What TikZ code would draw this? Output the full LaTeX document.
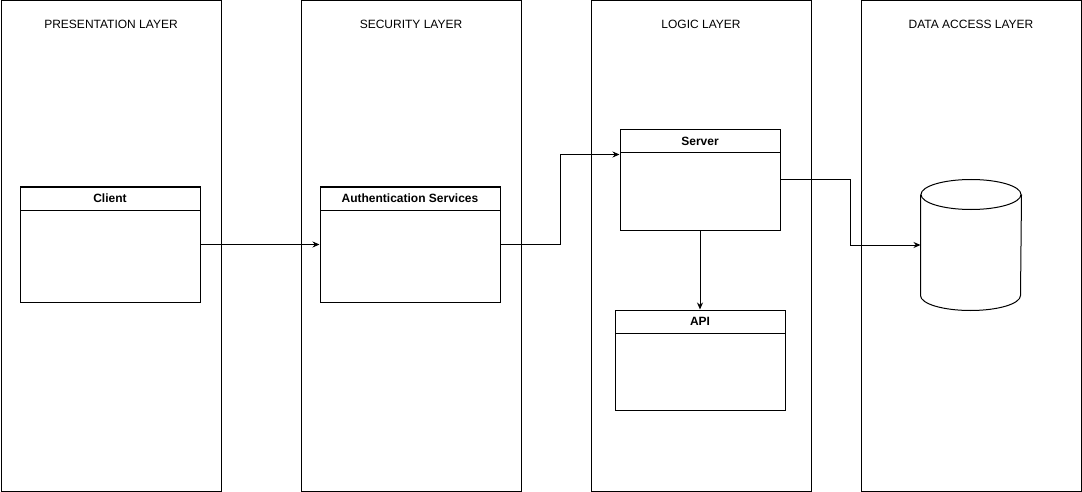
\documentclass[tikz,border=0pt]{standalone}
\usepackage{fontspec}
\setmainfont{Liberation Sans}
\usetikzlibrary{arrows.meta}

\begin{document}
\begin{tikzpicture}[x=1pt,y=-1pt,line width=1pt,
    font=\fontsize{12}{14}\selectfont,
    layer/.style ={draw, minimum width=220pt, minimum height=490pt, anchor=north west, inner sep=0pt},
    block/.style ={draw, fill=white, inner sep=0pt},
    header/.style ={draw, anchor=north, minimum height=23pt, inner sep=0pt, font=\fontsize{12}{14}\selectfont\bfseries},
    link/.style ={-{Stealth[length=7pt,width=6pt]}}]
   \useasboundingbox (0,0) rectangle (1082,492);
   % layers
   \node[layer] (pres) at (0.5,0.5) {};
   \node[layer] (sec)  at (300.5,0.5) {};
   \node[layer] (logic) at (590.5,0.5) {};
   \node[layer] (data) at (860.5,0.5) {};
   \node (presT)  at ([yshift=-24pt]pres.north)  {PRESENTATION LAYER};
   \node (secT)   at ([yshift=-24pt]sec.north)   {SECURITY LAYER};
   \node (logicT) at ([yshift=-24pt]logic.north) {LOGIC LAYER};
   \node (dataT)  at ([yshift=-24pt]data.north)  {DATA ACCESS LAYER};
   % blocks
   \node[block, minimum width=180pt, minimum height=115pt] (client) at (110,244.5) {};
   \node[header, minimum width=180pt] (clientH) at (client.north) {Client};
   \node[block, minimum width=180pt, minimum height=115pt] (auth) at (410,244.5) {};
   \node[header, minimum width=180pt] (authH) at (auth.north) {Authentication Services};
   \node[block, minimum width=160pt, minimum height=100pt] (server) at (700,180) {};
   \node[header, minimum width=160pt] (serverH) at (server.north) {Server};
   \node[block, minimum width=170pt, minimum height=100pt] (api) at (700,360) {};
   \node[header, minimum width=170pt] (apiH) at (api.north) {API};
   % database
   \node[minimum width=100pt, minimum height=130pt, inner sep=0pt] (db) at (971,245) {};
   \draw (db.north) ++(0,15) ellipse (50pt and 15pt);
   \draw ([yshift=-15pt]db.north west) -- ([yshift=15pt]db.south west)
      arc (180:360:50pt and 15pt) -- ([yshift=-15pt]db.north east);
   % links
   \draw[link] (client.east) -- (auth.west);
   \draw[link] (auth.east) -- ++(60,0) |- ([yshift=-25pt]server.north west);
   \draw[link] (server.east) -- ++(70,0) |- (db.west);
   \draw[link] (server.south) -- (server.south |- apiH.north);
 \end{tikzpicture}
\end{document}
